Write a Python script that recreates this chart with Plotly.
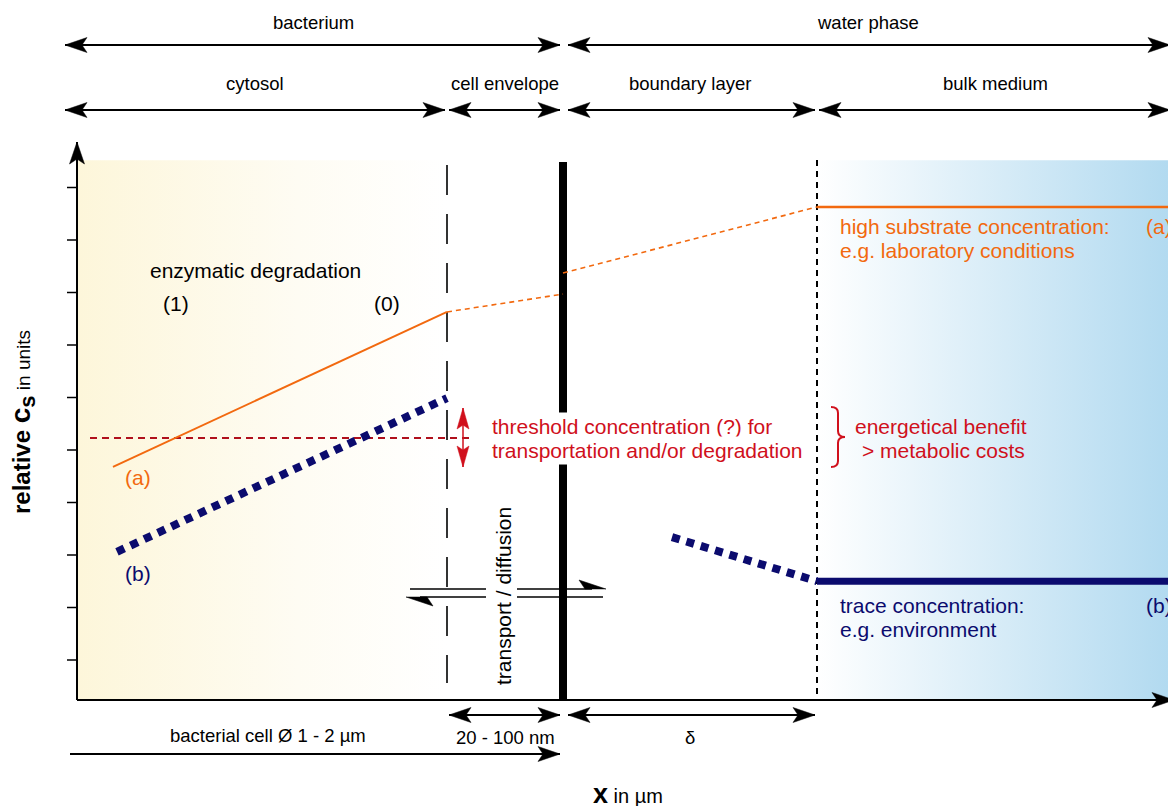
import plotly.graph_objects as go

W, H = 1168, 806
# helpers: map picture pixels to the data frame (only used for layout placement)
def X(px): return (px - 77) / 100.0
def Y(py): return (712.5 - py) / 52.5

# ---------------- data ----------------
zone_edges = [0.0, 3.70, 4.86, 7.40, 10.91]      # cytosol | cell envelope | boundary layer | bulk medium
shade_bottom, shade_top = 0.24, 10.52
y_ticks = [1, 2, 3, 4, 5, 6, 7, 8, 9, 10]

# (a) high substrate concentration
a_cyt_x, a_cyt_y = [0.36, 3.70], [4.68, 7.63]
a_env_x, a_env_y = [3.70, 4.86], [7.63, 7.97]
a_bl_x, a_bl_y = [4.86, 7.40], [8.37, 9.63]
a_bulk_x, a_bulk_y = [7.40, 10.91], [9.63, 9.63]

# (b) trace concentration
b_cyt_x, b_cyt_y = [0.40, 3.70], [3.06, 5.99]
b_bl_x, b_bl_y = [5.95, 7.40], [3.34, 2.50]
b_bulk_x, b_bulk_y = [7.40, 10.91], [2.50, 2.50]

# threshold concentration
thr_x, thr_y = [0.13, 3.97], [5.23, 5.23]

ORANGE = '#f2690f'
NAVY = '#0b0b6e'
RED = '#d0101c'
DRED = '#b0101c'
FONT = 'Liberation Sans, Arial, Helvetica, sans-serif'
BODY = 21
LAB = 18.5

fig = go.Figure()

# ---------------- background gradients ----------------
def rect(x0, x1):
    return [x0, x1, x1, x0, x0], [shade_bottom, shade_bottom, shade_top, shade_top, shade_bottom]

xs, ys = rect(zone_edges[0], zone_edges[1])
fig.add_trace(go.Scatter(x=xs, y=ys, mode='none', fill='toself', hoverinfo='skip',
                         fillgradient=dict(type='horizontal',
                                           colorscale=[[0, '#fdf6da'], [0.6, '#fefcf3'], [1, '#ffffff']])))
xs, ys = rect(zone_edges[3], zone_edges[4])
fig.add_trace(go.Scatter(x=xs, y=ys, mode='none', fill='toself', hoverinfo='skip',
                         fillgradient=dict(type='horizontal',
                                           colorscale=[[0, '#ffffff'], [1, '#b2daf0']])))

# ---------------- boundaries ----------------
fig.add_trace(go.Scatter(x=[zone_edges[1], zone_edges[1]], y=[Y(165), Y(683)], mode='lines',
                         line=dict(color='black', width=1.6, dash='30px,19px'), hoverinfo='skip'))
fig.add_trace(go.Scatter(x=[zone_edges[2], zone_edges[2]], y=[Y(162), shade_bottom], mode='lines',
                         line=dict(color='black', width=8), hoverinfo='skip'))
fig.add_trace(go.Scatter(x=[zone_edges[3], zone_edges[3]], y=[Y(160), shade_bottom], mode='lines',
                         line=dict(color='black', width=2, dash='6px,5px'), hoverinfo='skip'))

# ---------------- ticks ----------------
tx, ty = [], []
for t in y_ticks:
    tx += [X(67), 0, None]
    ty += [t, t, None]
fig.add_trace(go.Scatter(x=tx, y=ty, mode='lines', line=dict(color='black', width=1.5), hoverinfo='skip'))

# ---------------- series ----------------
fig.add_trace(go.Scatter(x=thr_x, y=thr_y, mode='lines', line=dict(color=DRED, width=2, dash='7px,5px')))
fig.add_trace(go.Scatter(x=a_cyt_x, y=a_cyt_y, mode='lines', line=dict(color=ORANGE, width=2)))
fig.add_trace(go.Scatter(x=a_env_x, y=a_env_y, mode='lines', line=dict(color=ORANGE, width=1.6, dash='5px,4px')))
fig.add_trace(go.Scatter(x=a_bl_x, y=a_bl_y, mode='lines', line=dict(color=ORANGE, width=1.6, dash='5px,4px')))
fig.add_trace(go.Scatter(x=a_bulk_x, y=a_bulk_y, mode='lines', line=dict(color=ORANGE, width=2.5)))
fig.add_trace(go.Scatter(x=b_cyt_x, y=b_cyt_y, mode='lines', line=dict(color=NAVY, width=8, dash='8px,7px')))
fig.add_trace(go.Scatter(x=b_bl_x, y=b_bl_y, mode='lines', line=dict(color=NAVY, width=8, dash='8px,7px')))
fig.add_trace(go.Scatter(x=b_bulk_x, y=b_bulk_y, mode='lines', line=dict(color=NAVY, width=7)))

shapes = []
annotations = []

def poly(pts, color):
    d = 'M ' + ' L '.join(f'{X(px):.4f},{Y(py):.4f}' for px, py in pts) + ' Z'
    shapes.append(dict(type='path', path=d, xref='x', yref='y', fillcolor=color,
                       line=dict(color=color, width=0.5), layer='above'))

def seg(p0, p1, color='black', width=2):
    shapes.append(dict(type='line', xref='x', yref='y', x0=X(p0[0]), y0=Y(p0[1]), x1=X(p1[0]), y1=Y(p1[1]),
                       line=dict(color=color, width=width), layer='above'))

def head(tip, frm, color='black', L=22, Wd=7.5, N=5):
    dx, dy = tip[0] - frm[0], tip[1] - frm[1]
    n = (dx * dx + dy * dy) ** 0.5
    ux, uy = dx / n, dy / n
    vx, vy = -uy, ux
    bx, by = tip[0] - L * ux, tip[1] - L * uy
    pts = [tip, (bx + Wd * vx, by + Wd * vy), (tip[0] - (L - N) * ux, tip[1] - (L - N) * uy),
           (bx - Wd * vx, by - Wd * vy)]
    poly(pts, color)

def arrow(p0, p1, both=True, color='black', width=2, **kw):
    seg(p0, p1, color, width)
    head(p1, p0, color, **kw)
    if both:
        head(p0, p1, color, **kw)

def txt(px, py, text, size=BODY, color='black', xanchor='center', **kw):
    annotations.append(dict(x=X(px), y=Y(py), xref='x', yref='y', text=text, showarrow=False,
                            xanchor=xanchor, yanchor='middle', font=dict(size=size, color=color, family=FONT), **kw))

# axes
arrow((77, 700), (77, 142), both=False)
arrow((77, 700), (1174, 700), both=False)

# top span arrows
arrow((65, 45), (560, 45)); arrow((568, 45), (1170, 45))
arrow((65, 110), (445, 110)); arrow((449, 110), (560, 110))
arrow((568, 110), (815, 110)); arrow((819, 110), (1170, 110))
# bottom span arrows
arrow((449, 715), (560, 715)); arrow((568, 715), (815, 715))
arrow((70, 754), (560, 754), both=False)

# red double arrow
arrow((463, 408), (463, 467), color=RED, width=1.5, L=21, Wd=6, N=4)

# transport harpoons
seg((410, 589), (486, 589), width=1.6); seg((420, 597), (486, 597), width=1.6)
poly([(406, 597), (433, 606), (427, 597)], 'black')
seg((517, 589), (592, 589), width=1.6); seg((517, 597), (603, 597), width=1.6)
poly([(606, 589), (579, 580), (585, 589)], 'black')

# brace
bp = [(831, 407), (838, 413), (838, 431), (845, 437), (838, 443), (838, 461), (831, 467)]
def P(p): return f'{X(p[0]):.4f},{Y(p[1]):.4f}'
brace = (f'M {P(bp[0])} Q {P((838, 407))} {P(bp[1])} L {P(bp[2])} Q {P((838, 437))} {P(bp[3])} '
         f'Q {P((838, 437))} {P(bp[4])} L {P(bp[5])} Q {P((838, 467))} {P(bp[6])}')
shapes.append(dict(type='path', path=brace, xref='x', yref='y', line=dict(color=RED, width=2), layer='above'))

# ---------------- texts ----------------
txt(313, 22, 'bacterium', LAB); txt(868, 22, 'water phase', LAB)
txt(255, 83, 'cytosol', LAB); txt(505, 83, 'cell envelope', LAB)
txt(690, 83, 'boundary layer', LAB); txt(995, 83, 'bulk medium', LAB)
txt(505, 737, '20 - 100 nm', LAB); txt(690, 737, 'δ', LAB)
txt(268, 735, 'bacterial cell Ø 1 - 2 µm', LAB)

txt(255, 270, 'enzymatic degradation')
txt(176, 303, '(1)'); txt(387, 303, '(0)')
txt(138, 477, '(a)', color=ORANGE); txt(138, 573, '(b)', color=NAVY)

txt(489, 426, 'threshold concentration (?) for', color=RED, xanchor='left', bgcolor='white', borderpad=2)
txt(489, 450, 'transportation and/or degradation', color=RED, xanchor='left', bgcolor='white', borderpad=2)
txt(941, 426, 'energetical benefit', color=RED); txt(943, 450, '> metabolic costs', color=RED)

txt(838, 226, 'high substrate concentration:', color=ORANGE, xanchor='left')
txt(838, 250, 'e.g. laboratory conditions', color=ORANGE, xanchor='left')
txt(1144, 226, '(a)', color=ORANGE, xanchor='left')
txt(838, 605, 'trace concentration:', color=NAVY, xanchor='left')
txt(838, 629, 'e.g. environment', color=NAVY, xanchor='left')
txt(1144, 605, '(b)', color=NAVY, xanchor='left')

txt(503, 596, 'transport / diffusion', textangle=-90)

txt(628, 794, "<b><span style='font-size:27px'>x</span></b> in µm", 20)
txt(22, 422, "<b>relative <span style='font-size:28px'>c</span><sub><span style='font-size:22px'>s</span></sub></b>"
             "<span style='font-size:19px'> in units</span>", 24, textangle=-90)

fig.update_layout(
    width=W, height=H, margin=dict(l=0, r=0, t=0, b=0), autosize=False,
    paper_bgcolor='white', plot_bgcolor='white', showlegend=False,
    font=dict(family=FONT, color='black'),
    xaxis=dict(range=[X(0), X(W)], visible=False, fixedrange=True),
    yaxis=dict(range=[Y(H), Y(0)], visible=False, fixedrange=True),
    shapes=shapes, annotations=annotations,
)
fig.write_html('out.html', config={'displayModeBar': False},
               post_script="document.body.style.margin='0';document.body.style.overflow='hidden';")
